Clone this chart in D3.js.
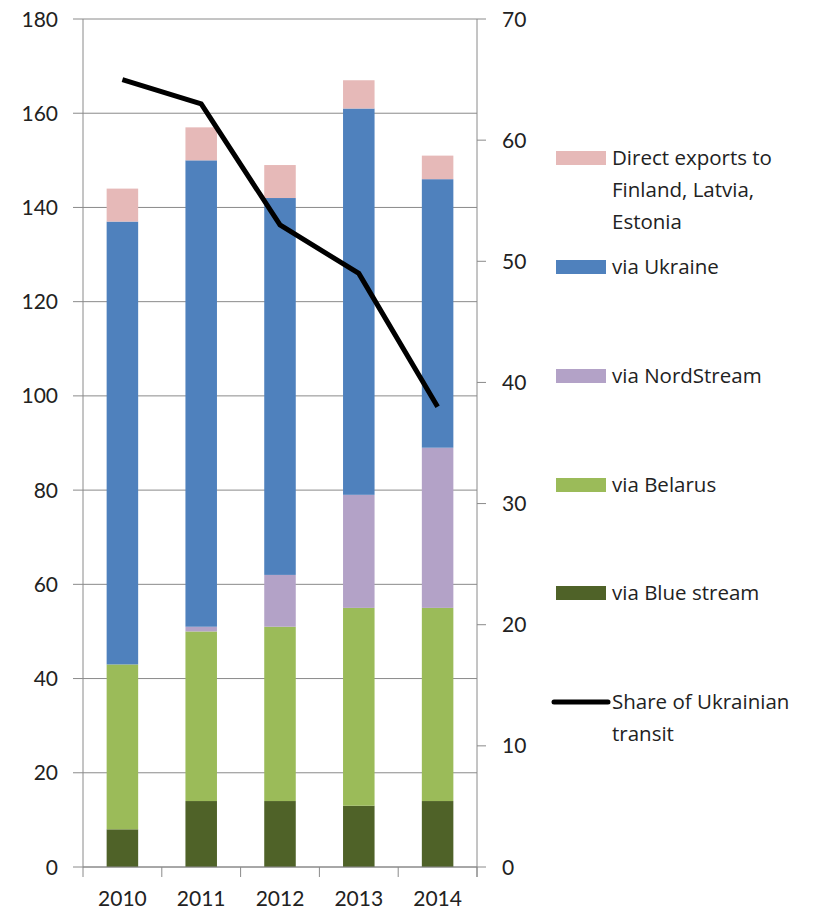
<!DOCTYPE html>
<html><head><meta charset="utf-8">
<script src="https://cdn.jsdelivr.net/npm/d3@7"></script>
<style>body{margin:0;background:#fff}svg{display:block}text{font-family:Lato,"Open Sans",sans-serif;fill:#222}.lg text{font-family:"Open Sans",Lato,sans-serif}</style>
</head><body><svg id="c" width="821" height="911"></svg>
<script>
const years = ["2010","2011","2012","2013","2014"];
const blueStream = [8,14,14,13,14];
const belarus = [35,36,37,42,41];
const nordStream = [0,1,11,24,34];
const ukraine = [94,99,80,82,57];
const directExports = [7,7,7,6,5];
const ukrShare = [65,63,53,49,38];
const leftTicks = [0,20,40,60,80,100,120,140,160,180];
const rightTicks = [0,10,20,30,40,50,60,70];

const seriesNames = ["via Blue stream","via Belarus","via NordStream","via Ukraine","Direct exports to Finland, Latvia, Estonia"];
const seriesVals = [blueStream, belarus, nordStream, ukraine, directExports];
const colors = ["#4F6228","#9BBB59","#B3A2C7","#4F81BD","#E6B9B8"];

const svg = d3.select("#c");
const L = 83, R = 477, T = 19, B = 867;
const x = d3.scaleBand().domain(years).range([L, R]).paddingInner(0.6).paddingOuter(0.3);
const yL = d3.scaleLinear().domain([0,180]).range([B, T]);
const yR = d3.scaleLinear().domain([0,70]).range([B, T]);
const grid = "#8a8a8a";

const gl = svg.append("g");
leftTicks.forEach(t => {
  gl.append("line").attr("x1", L-10).attr("x2", R).attr("y1", yL(t)).attr("y2", yL(t)).attr("stroke", grid).attr("stroke-width", 1);
  gl.append("text").attr("x", 58).attr("y", yL(t)).attr("dy", "0.36em").attr("text-anchor", "end").attr("font-size", 21).text(t);
});
svg.append("line").attr("x1", L).attr("x2", L).attr("y1", T).attr("y2", B).attr("stroke", grid);
svg.append("line").attr("x1", R).attr("x2", R).attr("y1", T).attr("y2", B+10).attr("stroke", grid);
rightTicks.forEach(t => {
  svg.append("line").attr("x1", R).attr("x2", R+9).attr("y1", yR(t)).attr("y2", yR(t)).attr("stroke", grid);
  svg.append("text").attr("x", 502).attr("y", yR(t)).attr("dy", "0.36em").attr("font-size", 21).text(t);
});

const data = years.map((yv, i) => { const o = {year: yv}; seriesNames.forEach((n, k) => o[n] = seriesVals[k][i]); return o; });
const stack = d3.stack().keys(seriesNames)(data);
svg.append("g").selectAll("g").data(stack).join("g").attr("fill", (d, i) => colors[i])
  .selectAll("rect").data(d => d).join("rect")
  .attr("x", d => x(d.data.year)).attr("width", x.bandwidth())
  .attr("y", d => yL(d[1])).attr("height", d => yL(d[0]) - yL(d[1]));

svg.append("line").attr("x1", L).attr("x2", R).attr("y1", B).attr("y2", B).attr("stroke", grid);
for (let i = 0; i <= years.length; i++) {
  const xx = L + (R - L) * i / years.length;
  svg.append("line").attr("x1", xx).attr("x2", xx).attr("y1", B).attr("y2", B+10).attr("stroke", grid);
}
years.forEach(yv => {
  svg.append("text").attr("x", x(yv) + x.bandwidth()/2).attr("y", 898).attr("dy", "0.36em").attr("text-anchor", "middle").attr("font-size", 21).text(yv);
});

const line = d3.line().x((d, i) => x(years[i]) + x.bandwidth()/2).y(d => yR(d));
svg.append("path").datum(ukrShare).attr("d", line).attr("fill", "none").attr("stroke", "#000").attr("stroke-width", 5).attr("stroke-linejoin", "miter");

const lg = svg.append("g").attr("class", "lg");
const legendItems = [
  {c: colors[4], lines: ["Direct exports to","Finland, Latvia,","Estonia"], y: 158},
  {c: colors[3], lines: ["via Ukraine"], y: 267},
  {c: colors[2], lines: ["via NordStream"], y: 376},
  {c: colors[1], lines: ["via Belarus"], y: 485},
  {c: colors[0], lines: ["via Blue stream"], y: 593},
  {c: "#000", lines: ["Share of Ukrainian","transit"], y: 702, line: true}
];
legendItems.forEach(it => {
  if (it.line) {
    lg.append("line").attr("x1", 554).attr("x2", 608).attr("y1", it.y).attr("y2", it.y).attr("stroke", "#000").attr("stroke-width", 5).attr("stroke-linecap", "round");
  } else {
    lg.append("rect").attr("x", 556).attr("y", it.y - 7).attr("width", 50).attr("height", 14).attr("fill", it.c);
  }
  it.lines.forEach((t, j) => {
    lg.append("text").attr("x", 612).attr("y", it.y + j * 32).attr("dy", "0.36em").attr("font-size", 20.5).text(t);
  });
});
</script></body></html>
